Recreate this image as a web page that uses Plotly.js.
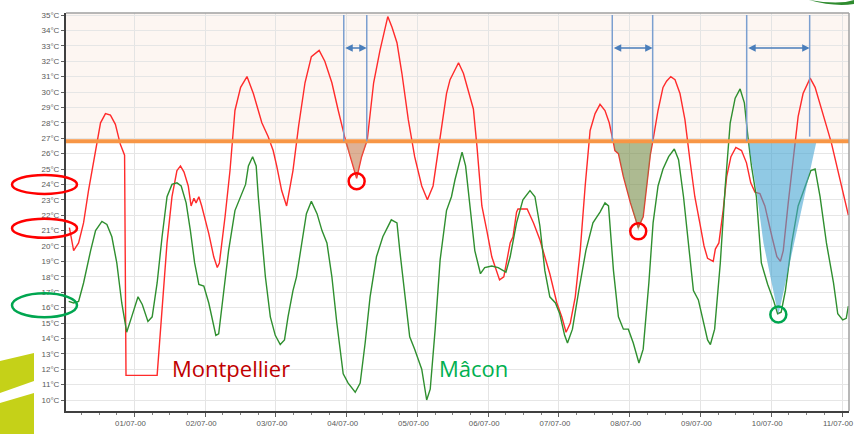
<!DOCTYPE html>
<html><head><meta charset="utf-8">
<script src="https://cdn.plot.ly/plotly-3.0.1.min.js"></script>
<style>html,body{margin:0;padding:0;background:#fff}#chart{width:854px;height:434px}</style>
</head><body><div id="chart"></div>
<script>
// Time in days since 01/07/2000 00:00, temperatures in °C
const seriesNames = ["Montpellier", "Mâcon"];

const redT = [-0.92,-0.86,-0.79,-0.72,-0.65,-0.55,-0.48,-0.41,-0.34,-0.27,-0.20,-0.14,-0.12,0.32,0.39,0.46,0.53,0.60,0.65,0.70,0.76,0.80,0.84,0.87,0.91,0.95,1.05,1.12,1.17,1.20,1.28,1.35,1.42,1.50,1.59,1.68,1.75,1.80,1.89,1.96,2.01,2.08,2.15,2.24,2.32,2.41,2.50,2.61,2.69,2.79,2.88,2.97,3.05,3.14,3.21,3.29,3.38,3.47,3.58,3.64,3.71,3.78,3.87,3.96,4.06,4.14,4.22,4.32,4.41,4.46,4.53,4.58,4.65,4.72,4.79,4.84,4.91,4.98,5.05,5.16,5.22,5.31,5.35,5.40,5.42,5.55,5.64,5.73,5.80,5.87,5.97,6.04,6.10,6.16,6.23,6.30,6.37,6.44,6.51,6.58,6.65,6.71,6.77,6.79,6.84,6.91,7.01,7.08,7.12,7.19,7.24,7.29,7.33,7.40,7.47,7.52,7.58,7.64,7.71,7.78,7.85,7.92,7.99,8.05,8.10,8.18,8.21,8.26,8.32,8.37,8.43,8.50,8.58,8.65,8.71,8.77,8.84,8.91,9.01,9.08,9.13,9.17,9.24,9.31,9.38,9.45,9.55,9.62,9.71,9.78,9.85,9.94,10.03,10.09];
const redV = [21.2,19.7,20.2,21.5,23.6,26.2,28.0,28.6,28.5,27.9,26.6,25.9,11.6,11.6,15.8,20.2,23.2,24.9,25.2,24.8,23.9,22.6,23.1,22.8,23.2,22.6,20.8,19.3,18.6,18.9,21.9,24.9,28.8,30.3,31.0,29.9,28.8,28.0,27.1,26.2,25.2,23.6,22.6,24.9,27.8,30.6,32.3,32.7,32.0,30.6,28.8,27.1,25.8,24.4,25.8,26.9,30.6,32.7,34.9,34.2,33.2,31.2,28.2,25.8,23.9,23.0,23.9,26.9,29.9,30.8,31.5,31.9,31.2,30.1,28.9,26.5,22.6,21.0,19.3,17.8,18.0,20.2,20.6,22.2,22.4,22.4,21.5,20.4,19.3,18.2,16.3,15.4,14.4,15.0,16.7,19.7,23.9,27.5,28.6,29.2,28.8,28.0,26.7,26.2,26.0,24.5,22.8,21.7,21.2,21.9,24.1,25.9,26.9,28.8,30.3,30.7,31.0,30.8,29.9,28.2,25.6,23.2,21.5,20.0,19.2,19.0,19.8,20.2,22.3,24.5,25.8,26.4,26.2,25.4,24.1,23.5,23.4,22.6,20.6,19.3,19.0,19.7,22.8,25.8,28.4,29.9,30.9,30.3,28.8,27.8,26.7,24.9,23.2,22.0];

const greenT = [-0.93,-0.86,-0.79,-0.72,-0.62,-0.55,-0.46,-0.39,-0.32,-0.25,-0.18,-0.11,-0.04,0.05,0.11,0.19,0.25,0.32,0.39,0.46,0.53,0.60,0.66,0.73,0.79,0.85,0.91,0.98,1.05,1.11,1.15,1.19,1.26,1.33,1.42,1.50,1.57,1.61,1.67,1.72,1.75,1.80,1.85,1.92,1.99,2.06,2.12,2.17,2.24,2.29,2.36,2.43,2.50,2.58,2.65,2.72,2.79,2.86,2.95,3.02,3.12,3.19,3.26,3.33,3.42,3.51,3.63,3.71,3.75,3.82,3.89,3.96,4.06,4.13,4.18,4.25,4.32,4.41,4.48,4.53,4.58,4.63,4.68,4.74,4.81,4.89,4.95,5.05,5.14,5.25,5.31,5.40,5.49,5.59,5.66,5.73,5.80,5.87,5.95,6.01,6.08,6.12,6.19,6.28,6.38,6.48,6.58,6.65,6.70,6.77,6.84,6.91,6.98,7.05,7.13,7.19,7.27,7.33,7.40,7.47,7.55,7.63,7.69,7.76,7.83,7.90,7.97,8.04,8.10,8.14,8.20,8.28,8.35,8.42,8.49,8.56,8.62,8.67,8.72,8.79,8.86,8.95,9.03,9.09,9.14,9.20,9.29,9.38,9.48,9.56,9.62,9.69,9.78,9.88,9.94,10.01,10.06,10.09];
const greenV = [16.4,16.3,16.4,17.6,19.7,21.0,21.6,21.4,20.6,18.9,16.3,14.4,15.4,16.7,16.2,15.1,15.4,17.6,20.6,23.2,24.0,24.1,23.9,22.8,21.0,18.9,17.5,17.4,16.3,15.0,14.2,14.3,16.9,19.7,22.3,23.2,24.0,25.2,25.8,25.2,23.2,20.6,18.0,15.4,14.2,13.6,13.9,15.4,17.1,18.0,20.2,22.1,22.9,22.1,21.0,20.2,18.0,15.0,11.7,11.1,10.5,11.1,13.7,16.7,19.3,20.6,21.7,21.5,19.7,16.7,14.1,13.3,12.0,10.0,10.7,14.6,19.1,22.3,23.2,24.3,25.2,26.1,25.2,22.8,19.7,18.2,18.6,18.7,18.6,18.3,19.3,21.5,23.0,23.6,23.2,21.3,18.4,16.7,16.3,15.6,14.2,13.7,14.6,17.1,19.7,21.5,22.2,22.8,22.6,18.4,15.4,14.6,14.6,13.7,12.4,13.3,17.6,21.5,23.9,25.0,25.8,26.3,25.6,23.2,20.2,17.1,16.5,15.2,13.9,13.6,14.6,18.9,23.9,28.0,29.6,30.2,29.3,27.1,25.2,23.2,18.9,17.5,16.5,15.6,15.7,17.1,20.2,22.6,23.9,24.9,25.0,23.2,20.2,17.6,15.6,15.2,15.3,16.1];

// threshold and highlighted periods
const threshold = [26.8];
const periodStart = [2.958, 6.753, 8.653];
const periodEnd   = [3.283, 7.324, 9.543];
// shaded areas under the threshold
const shadeAT = [2.97, 3.05, 3.14, 3.21, 3.29];
const shadeAV = [26.8, 25.8, 24.4, 25.8, 26.8];
const shadeBT = [6.77, 6.79, 6.84, 6.91, 7.01, 7.08, 7.12, 7.19, 7.32];
const shadeBV = [26.8, 26.2, 26.0, 24.5, 22.8, 21.7, 21.0, 21.9, 26.8];
const shadeCT = [8.675, 8.79, 8.89, 9.01, 9.10, 9.64];
const shadeCV = [26.8, 23.6, 20.2, 17.6, 15.5, 26.8];
// circled minima
const redMinT = [3.14, 7.12];
const redMinV = [24.2, 20.95];
const greenMinT = [9.10];
const greenMinV = [15.55];
// circled axis labels
const circledRed = [24, 21.15];
const circledGreen = [16.15];

const BASE = Date.UTC(2000, 6, 1);
function d(t) {
  return new Date(BASE + t * 86400000).toISOString().replace('T', ' ').slice(0, 19);
}

const traces = [
  {x: redT.map(d), y: redV, type: 'scatter', mode: 'lines', name: seriesNames[0],
   line: {color: '#ff2b2b', width: 1.4}, hoverinfo: 'skip'},
  {x: greenT.map(d), y: greenV, type: 'scatter', mode: 'lines', name: seriesNames[1],
   line: {color: '#2f8f2f', width: 1.4}, hoverinfo: 'skip'},
  {x: shadeAT.map(d), y: shadeAV, type: 'scatter', mode: 'lines', fill: 'toself',
   fillcolor: 'rgba(200,125,80,0.6)', line: {width: 0}, hoverinfo: 'skip'},
  {x: shadeBT.map(d), y: shadeBV, type: 'scatter', mode: 'lines', fill: 'toself',
   fillcolor: 'rgba(118,140,72,0.6)', line: {width: 0}, hoverinfo: 'skip'},
  {x: shadeCT.map(d), y: shadeCV, type: 'scatter', mode: 'lines', fill: 'toself',
   fillcolor: 'rgba(70,165,210,0.6)', line: {width: 0}, hoverinfo: 'skip'},
  {x: redMinT.map(d), y: redMinV, type: 'scatter', mode: 'markers',
   marker: {symbol: 'circle-open', size: 16, color: '#ff0000', line: {width: 2.5, color: '#ff0000'}}, hoverinfo: 'skip'},
  {x: greenMinT.map(d), y: greenMinV, type: 'scatter', mode: 'markers',
   marker: {symbol: 'circle-open', size: 16, color: '#00a650', line: {width: 2.5, color: '#00a650'}}, hoverinfo: 'skip'}
];

const shapes = [
  {type: 'rect', xref: 'paper', x0: 0, x1: 1, yref: 'y', y0: threshold[0], y1: 35.2,
   fillcolor: '#fdf6f2', line: {width: 0}, layer: 'below'},
  {type: 'line', xref: 'paper', x0: 0, x1: 1, yref: 'y', y0: threshold[0], y1: threshold[0],
   line: {color: '#f79646', width: 4}, layer: 'above'},
  // top / right frame
  {type: 'line', xref: 'paper', x0: 0, x1: 1, yref: 'paper', y0: 1, y1: 1, line: {color: '#a0a0a0', width: 1.5}},
  {type: 'line', xref: 'paper', x0: 1, x1: 1, yref: 'paper', y0: 0, y1: 1, line: {color: '#a0a0a0', width: 1.5}}
];
periodStart.forEach((s, i) => {
  shapes.push({type: 'line', xref: 'x', x0: d(s), x1: d(s), yref: 'y', y0: threshold[0], y1: 35.0,
    line: {color: '#7b9fd0', width: 1.5}});
  const e = periodEnd[i];
  shapes.push({type: 'line', xref: 'x', x0: d(e), x1: d(e), yref: 'y', y0: i === 2 ? 27.1 : threshold[0], y1: 35.0,
    line: {color: '#7b9fd0', width: 1.5}});
});
circledRed.forEach(v => shapes.push({type: 'circle', xref: 'paper', xsizemode: 'pixel', xanchor: 0, x0: -54, x1: 11,
  yref: 'y', ysizemode: 'pixel', yanchor: v, y0: -9.5, y1: 9.5, line: {color: '#ff0000', width: 2.5}}));
circledGreen.forEach(v => shapes.push({type: 'circle', xref: 'paper', xsizemode: 'pixel', xanchor: 0, x0: -54, x1: 11,
  yref: 'y', ysizemode: 'pixel', yanchor: v, y0: -12, y1: 12, line: {color: '#00a650', width: 2.5}}));
// decorative corner graphics
shapes.push({type: 'path', xref: 'paper', yref: 'paper', xsizemode: 'pixel', ysizemode: 'pixel', xanchor: 0, yanchor: 0,
  path: 'M-66,50 L-32,58 L-32,30 L-66,18 Z', fillcolor: '#c5d118', line: {width: 0}});
shapes.push({type: 'path', xref: 'paper', yref: 'paper', xsizemode: 'pixel', ysizemode: 'pixel', xanchor: 0, yanchor: 0,
  path: 'M-66,8 L-32,18 L-32,-23 L-66,-23 Z', fillcolor: '#c5d118', line: {width: 0}});
shapes.push({type: 'path', xref: 'paper', yref: 'paper', xsizemode: 'pixel', ysizemode: 'pixel', xanchor: 1, yanchor: 1,
  path: 'M-40,13 Q-10,8 5,13 L5,9 Q-15,6 -40,13 Z', fillcolor: '#2e8b2e', line: {width: 0}});

const annotations = [
  {x: d(1.364), y: 12.05, xref: 'x', yref: 'y', text: seriesNames[0], showarrow: false,
   font: {family: 'Open Sans', size: 22, color: '#c00000'}},
  {x: d(4.789), y: 12.05, xref: 'x', yref: 'y', text: seriesNames[1], showarrow: false,
   font: {family: 'Open Sans', size: 22, color: '#00b050'}}
];
periodStart.forEach((s, i) => {
  annotations.push({x: d(periodEnd[i]), y: 32.86, ax: d(s), ay: 32.86, xref: 'x', yref: 'y', axref: 'x', ayref: 'y',
    text: '', showarrow: true, arrowside: 'end+start', arrowhead: 2, startarrowhead: 2, arrowsize: 1, startarrowsize: 1,
    arrowwidth: 1.5, arrowcolor: '#4a7ebb'});
});

const layout = {
  width: 854, height: 434,
  margin: {l: 66, r: 5, t: 13, b: 23},
  paper_bgcolor: '#ffffff', plot_bgcolor: '#ffffff',
  showlegend: false,
  xaxis: {type: 'date', range: [d(-0.968), d(10.099)], tick0: d(0), dtick: 86400000, tickformat: '%d/%m-%y',
    showgrid: true, gridcolor: '#e4e4e4', gridwidth: 1, ticks: 'outside', ticklen: 4, tickcolor: '#606060',
    showline: true, linecolor: '#404040', linewidth: 1.5, zeroline: false, ticklabeloverflow: 'allow',
    ticklabelshift: -4,
    tickfont: {family: 'Liberation Sans', size: 7.8, color: '#595959'},
    minor: {dtick: 21600000, ticks: 'outside', ticklen: 2, tickcolor: '#808080', showgrid: false}},
  yaxis: {range: [9.286, 35.13], tick0: 0, dtick: 1, ticksuffix: '°C',
    showgrid: true, gridcolor: '#e6e6e6', gridwidth: 1, ticks: 'outside', ticklen: 3, tickcolor: '#606060',
    showline: true, linecolor: '#404040', linewidth: 2, zeroline: false,
    tickfont: {family: 'Liberation Sans', size: 8, color: '#595959'}},
  shapes: shapes,
  annotations: annotations
};

Plotly.newPlot('chart', traces, layout, {staticPlot: true, displayModeBar: false});
</script>
</body></html>
